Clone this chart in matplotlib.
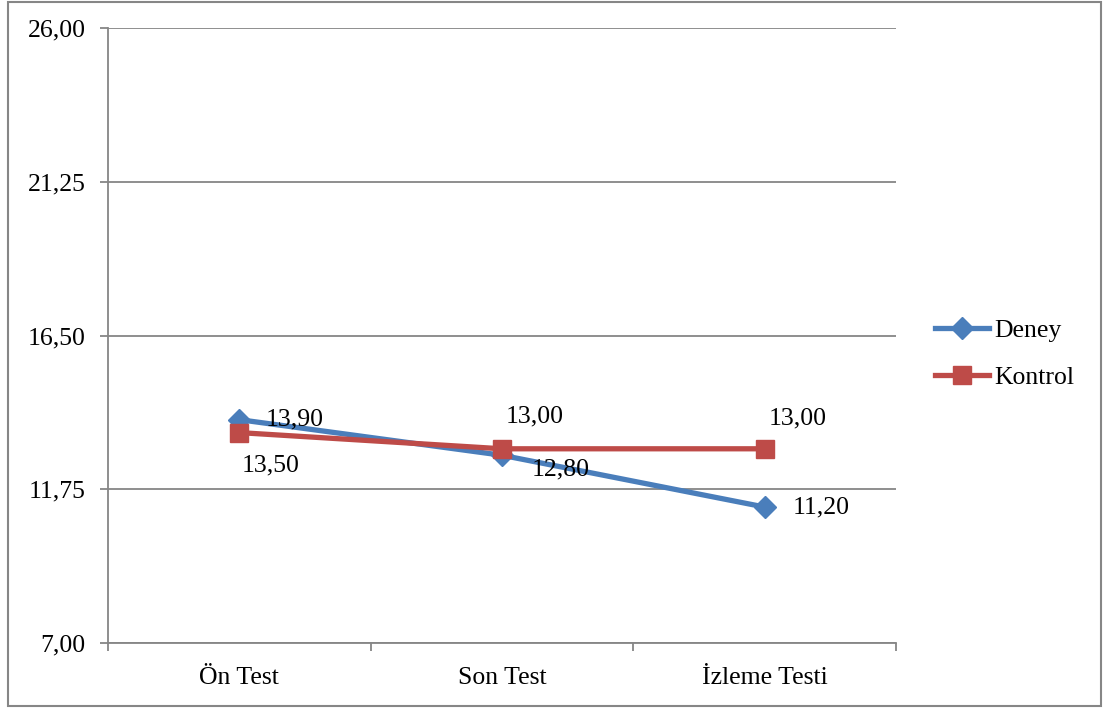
import matplotlib.pyplot as plt
from matplotlib.patches import Rectangle
from matplotlib.lines import Line2D

plt.rcParams['font.family'] = ['Liberation Serif', 'DejaVu Serif']

categories = ["Ön Test", "Son Test", "İzleme Testi"]
deney = [13.90, 12.80, 11.20]
kontrol = [13.50, 13.00, 13.00]
yticks = [7.00, 11.75, 16.50, 21.25, 26.00]

blue = "#4A7EBB"
red = "#BE4B48"
grid_gray = "#868686"
fs = 18.5

fig = plt.figure(figsize=(11.05, 7.08), dpi=100)
ax = fig.add_axes([108 / 1105, 65 / 708, 788 / 1105, 615 / 708])

x = list(range(len(categories)))
ax.plot(x, deney, color=blue, lw=3.8, marker="D", ms=11.5, zorder=3, label="Deney")
ax.plot(x, kontrol, color=red, lw=3.8, marker="s", ms=13, zorder=4, label="Kontrol")

def fmt(v):
    return f"{v:.2f}".replace(".", ",")

# value labels: Deney to the right, Kontrol above/below
deney_off = [(26, 0), (30, -14), (28, 0)]
for xi, v, (dx, dy) in zip(x, deney, deney_off):
    ax.annotate(fmt(v), (xi, v), xytext=(dx * 0.72, dy * 0.72), textcoords="offset points",
                ha="left", va="center", fontsize=fs)
kontrol_off = [(31, -33), (33, 32), (33, 30)]
for xi, v, (dx, dy) in zip(x, kontrol, kontrol_off):
    ax.annotate(fmt(v), (xi, v), xytext=(dx * 0.72, dy * 0.72), textcoords="offset points",
                ha="center", va="center", fontsize=fs)

ax.set_xlim(-0.5, 2.5)
ax.set_ylim(7.0, 26.0)
ax.set_yticks(yticks)
ax.set_yticklabels([fmt(v) for v in yticks], fontsize=fs)
ax.set_xticks(x)
ax.set_xticklabels(categories, fontsize=fs)
ax.set_xticks([-0.5, 0.5, 1.5, 2.5], minor=True)
ax.tick_params(axis="x", which="major", length=0, pad=17)
ax.tick_params(axis="x", which="minor", length=6, width=1.3, color=grid_gray, direction="out")
ax.tick_params(axis="y", length=6, width=1.3, color=grid_gray, direction="out", pad=10)

ax.yaxis.grid(True, color=grid_gray, lw=1.3)
ax.set_axisbelow(True)
for s in ("top", "right"):
    ax.spines[s].set_visible(False)
for s in ("left", "bottom"):
    ax.spines[s].set_color(grid_gray)
    ax.spines[s].set_linewidth(1.3)

handles = [
    Line2D([], [], color=blue, lw=3.8, marker="D", ms=11.5),
    Line2D([], [], color=red, lw=3.8, marker="s", ms=13),
]
fig.legend(handles, ["Deney", "Kontrol"], loc="center left",
           bbox_to_anchor=(935 / 1105, 1 - 354 / 708), frameon=False,
           fontsize=fs, handlelength=2.1, handletextpad=0.2, labelspacing=0.9,
           borderpad=0, borderaxespad=0)

# outer chart-area border
fig.patches.append(Rectangle((8 / 1105, 2 / 708), 1093 / 1105, 704 / 708,
                             transform=fig.transFigure, fill=False,
                             edgecolor=grid_gray, lw=1.5))

fig.savefig("out.png", dpi=100)
